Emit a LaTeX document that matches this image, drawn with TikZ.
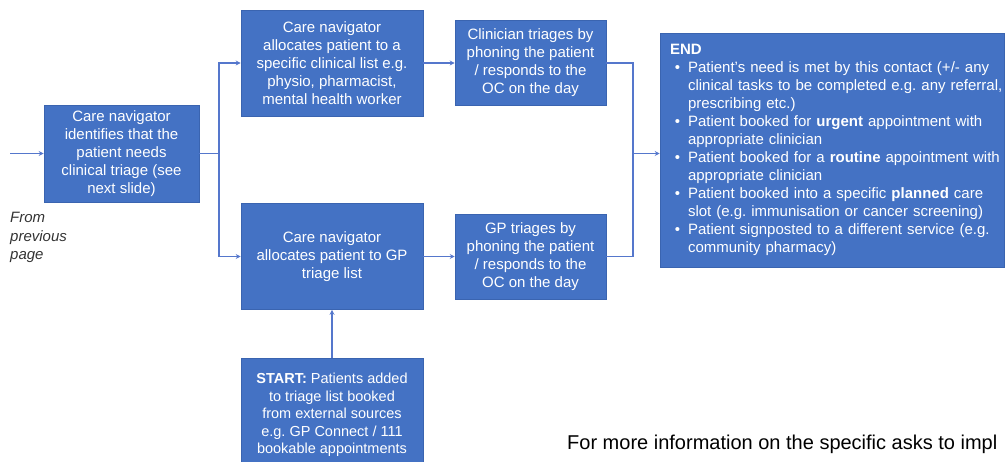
\documentclass[tikz,border=0pt]{standalone}
\usepackage{fontspec}
\setmainfont{Liberation Sans}
\usepackage{enumitem}
\usetikzlibrary{arrows.meta}
\definecolor{boxblue}{HTML}{4472C4}
\definecolor{edgeblue}{HTML}{3A64B0}
\definecolor{lineblue}{HTML}{5577CC}
\definecolor{notegray}{HTML}{333333}
\frenchspacing
\begin{document}
\begin{tikzpicture}[x=1pt,y=-1pt,
  box/.style={fill=boxblue, draw=edgeblue, line width=0.6pt, text=white, align=center,
    font=\fontsize{15}{18}\selectfont, inner sep=0pt},
  conn/.style={draw=lineblue, line width=1.1pt},
  arr/.style={conn, -{Stealth[length=5pt,width=5pt]}},
  note/.style={text=notegray, align=left, inner sep=0pt},
]
\useasboundingbox (0,0) rectangle (1006,462);
\clip (0,0) rectangle (1006,462);

\node[box, minimum width=155pt, minimum height=97pt] (a) at (121.5,153.5)
  {Care navigator\\identifies that the\\patient needs\\clinical triage (see\\next slide)};
\node[box, minimum width=182pt, minimum height=106pt] (b) at (332,63)
  {Care navigator\\allocates patient to a\\specific clinical list e.g.\\physio, pharmacist,\\mental health worker};
\node[box, minimum width=151pt, minimum height=85pt] (c) at (530.5,63)
  {Clinician triages by\\phoning the patient\\/ responds to the\\OC on the day};
\node[box, minimum width=182pt, minimum height=106pt] (d) at (332,256.5)
  {Care navigator\\allocates patient to GP\\triage list};
\node[box, minimum width=151pt, minimum height=85pt] (e) at (530.5,256.5)
  {GP triages by\\phoning the patient\\/ responds to the\\OC on the day};
\node[box, minimum width=182pt, minimum height=114pt, font=\fontsize{14.5}{17.5}\selectfont] (f) at (332,415)
  {\textbf{START:} Patients added\\to triage list booked\\from external sources\\e.g. GP Connect / 111\\bookable appointments};
\node[box, align=left, text width=342pt, inner xsep=1pt, minimum height=234pt] (g) at (832,150)
  {\hspace*{9pt}\textbf{END}\par
   \begin{itemize}[nosep, leftmargin=27pt, labelsep=8pt, label=\textbullet]
   \item \mbox{Patient's need is met by this contact (+/- any}\\\mbox{clinical tasks to be completed e.g. any referral,}\\prescribing etc.)
   \item \mbox{Patient booked for \textbf{urgent} appointment with}\\appropriate clinician
   \item \mbox{Patient booked for a \textbf{routine} appointment with}\\appropriate clinician
   \item \mbox{Patient booked into a specific \textbf{planned} care}\\\mbox{slot (e.g. immunisation or cancer screening)}
   \item \mbox{Patient signposted to a different service (e.g.}\\community pharmacy)
   \end{itemize}};

\node[note, anchor=north west, font=\itshape\fontsize{15}{18.5}\selectfont] (from) at (10,212)
  {From\\previous\\page};
\node[note, anchor=base west, text=black, font=\fontsize{20}{24}\selectfont] (info) at (567,449)
  {For more information on the specific asks to impl};

\coordinate (in) at (10,153.5);
\coordinate (j1) at (219,153.5);
\coordinate (j2) at (633,153.5);

\draw[arr] (in) -- (a.west);
\draw[conn] (a.east) -- (j1);
\draw[arr] (j1) |- (b.west);
\draw[arr] (j1) |- (d.west);
\draw[arr] (b.east) -- (c.west);
\draw[arr] (d.east) -- (e.west);
\draw[conn] (c.east) -| (j2);
\draw[conn] (e.east) -| (j2);
\draw[arr] (j2) -- (j2 -| g.west);
\draw[arr] (f.north) -- (d.south);
\end{tikzpicture}
\end{document}
